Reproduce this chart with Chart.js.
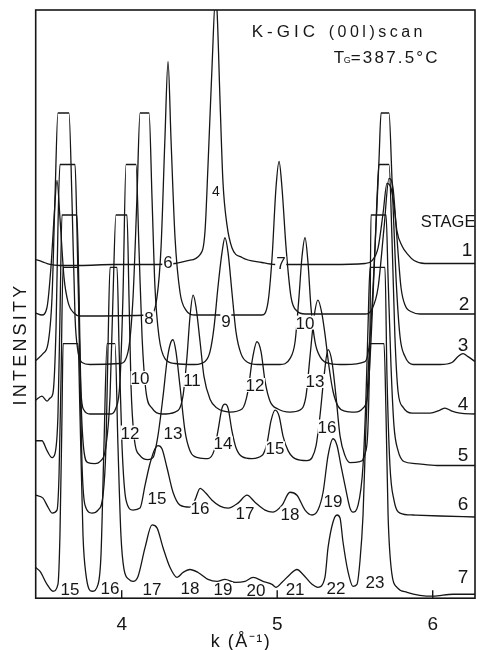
<!DOCTYPE html>
<html lang="en">
<head>
<meta charset="UTF-8">
<title>K-GIC (00l) scan</title>
<script src="https://cdn.jsdelivr.net/npm/chart.js"></script>
<style>
  html, body { margin: 0; padding: 0; background: #fff; }
</style>
</head>
<body>
<canvas id="scanChart" width="477" height="650"></canvas>
<script>
// k in 1/Angstrom, intensity in arbitrary units (stage offsets already included)
const k1 = [3.447, 3.487, 3.539, 3.603, 3.732, 3.944, 4.182, 4.343, 4.426, 4.504, 4.536, 4.555, 4.581, 4.603, 4.613, 4.632, 4.651, 4.677, 4.709, 4.774, 4.902, 4.986, 5.063, 5.340, 5.565, 5.610, 5.649, 5.681, 5.706, 5.732, 5.751, 5.770, 5.802, 5.841, 5.880, 5.950, 6.272];
const i1 = [342, 340, 337, 336, 336, 337, 337, 338, 341, 347, 371, 437, 537, 606, 594, 504, 421, 377, 354, 344, 339, 337, 337, 337, 338, 341, 354, 389, 419, 414, 397, 371, 356, 347, 341, 338, 338];

const k2 = [3.447, 3.487, 3.520, 3.545, 3.565, 3.584, 3.603, 3.629, 3.655, 3.693, 3.732, 4.182, 4.227, 4.253, 4.278, 4.298, 4.317, 4.343, 4.375, 4.413, 4.471, 4.902, 4.941, 4.967, 4.992, 5.012, 5.031, 5.057, 5.089, 5.127, 5.179, 5.565, 5.610, 5.649, 5.687, 5.719, 5.745, 5.770, 5.796, 5.822, 5.867, 5.918, 6.272];
const i2 = [288, 286, 294, 334, 384, 422, 384, 324, 299, 288, 285, 286, 304, 354, 464, 542, 464, 364, 309, 291, 286, 286, 299, 344, 414, 441, 414, 354, 304, 290, 287, 287, 292, 314, 374, 424, 414, 364, 314, 296, 289, 287, 287];

const k3 = [3.447, 3.494, 3.526, 3.552, 3.571, 3.590, 3.661, 3.680, 3.700, 3.719, 3.745, 3.796, 3.989, 4.041, 4.073, 4.098, 4.118, 4.176, 4.195, 4.214, 4.240, 4.278, 4.343, 4.471, 4.536, 4.568, 4.594, 4.619, 4.645, 4.664, 4.684, 4.709, 4.735, 4.767, 4.812, 4.877, 5.018, 5.082, 5.115, 5.140, 5.159, 5.179, 5.198, 5.217, 5.243, 5.275, 5.340, 5.436, 5.565, 5.597, 5.629, 5.655, 5.668, 5.719, 5.738, 5.764, 5.790, 5.822, 5.873, 6.047, 6.124, 6.163, 6.195, 6.227, 6.272];
const i3 = [240, 247, 257, 304, 404, 490, 490, 404, 284, 249, 238, 236, 237, 249, 304, 404, 490, 490, 404, 314, 264, 242, 237, 236, 239, 249, 274, 314, 349, 364, 349, 309, 269, 247, 238, 236, 236, 242, 259, 304, 344, 364, 339, 294, 259, 244, 237, 236, 239, 264, 354, 444, 490, 490, 424, 324, 264, 244, 236, 236, 238, 244, 247, 244, 239];

const k4 = [3.447, 3.487, 3.520, 3.539, 3.558, 3.578, 3.590, 3.603, 3.700, 3.712, 3.726, 3.738, 3.757, 3.796, 3.925, 3.963, 3.989, 4.008, 4.028, 4.092, 4.111, 4.131, 4.156, 4.195, 4.259, 4.343, 4.394, 4.420, 4.439, 4.459, 4.478, 4.504, 4.529, 4.568, 4.613, 4.696, 4.774, 4.812, 4.838, 4.870, 4.896, 4.922, 4.954, 5.005, 5.082, 5.147, 5.185, 5.211, 5.237, 5.262, 5.288, 5.307, 5.333, 5.359, 5.391, 5.436, 5.500, 5.552, 5.584, 5.616, 5.642, 5.655, 5.719, 5.738, 5.757, 5.777, 5.809, 5.867, 5.983, 6.047, 6.079, 6.124, 6.176, 6.272];
const i4 = [200, 204, 199, 202, 207, 274, 374, 438, 438, 374, 274, 209, 190, 186, 186, 192, 219, 304, 438, 438, 354, 264, 209, 192, 186, 188, 204, 244, 284, 306, 294, 259, 224, 201, 192, 188, 191, 209, 239, 259, 249, 219, 199, 191, 188, 190, 204, 244, 284, 301, 287, 267, 234, 209, 194, 189, 188, 192, 209, 304, 404, 438, 438, 364, 264, 209, 193, 187, 187, 190, 192, 189, 187, 186];

const k5 = [3.447, 3.487, 3.520, 3.552, 3.571, 3.590, 3.603, 3.616, 3.712, 3.726, 3.738, 3.757, 3.783, 3.828, 3.860, 3.899, 3.925, 3.944, 3.963, 4.034, 4.047, 4.060, 4.079, 4.118, 4.169, 4.201, 4.233, 4.266, 4.291, 4.311, 4.330, 4.349, 4.375, 4.407, 4.439, 4.491, 4.555, 4.594, 4.619, 4.645, 4.664, 4.684, 4.709, 4.735, 4.774, 4.838, 4.902, 4.934, 4.960, 4.986, 5.012, 5.037, 5.070, 5.115, 5.192, 5.224, 5.250, 5.275, 5.301, 5.327, 5.352, 5.378, 5.404, 5.436, 5.468, 5.532, 5.565, 5.584, 5.597, 5.603, 5.700, 5.713, 5.732, 5.751, 5.777, 5.815, 5.886, 6.028, 6.272];
const i5 = [159, 159, 149, 142, 146, 184, 284, 387, 387, 304, 204, 149, 137, 136, 138, 154, 204, 304, 387, 387, 304, 214, 164, 144, 140, 142, 164, 204, 239, 256, 261, 249, 214, 169, 149, 142, 141, 149, 169, 192, 196, 192, 169, 152, 143, 141, 144, 156, 179, 190, 184, 164, 149, 141, 139, 142, 154, 184, 224, 251, 239, 204, 164, 144, 137, 138, 146, 174, 274, 387, 387, 324, 234, 174, 149, 138, 136, 134, 134];

const k6 = [3.447, 3.494, 3.526, 3.552, 3.584, 3.597, 3.610, 3.623, 3.719, 3.732, 3.745, 3.764, 3.809, 3.848, 3.880, 3.899, 3.912, 3.925, 3.970, 3.983, 4.002, 4.028, 4.073, 4.118, 4.150, 4.182, 4.214, 4.233, 4.259, 4.291, 4.330, 4.375, 4.439, 4.471, 4.504, 4.542, 4.581, 4.632, 4.684, 4.748, 4.806, 4.857, 4.922, 4.973, 5.031, 5.082, 5.127, 5.179, 5.224, 5.262, 5.295, 5.327, 5.359, 5.385, 5.410, 5.436, 5.468, 5.487, 5.520, 5.552, 5.571, 5.584, 5.597, 5.693, 5.706, 5.725, 5.751, 5.790, 5.873, 6.047, 6.272];
const i6 = [104, 101, 92, 86, 89, 124, 224, 334, 334, 224, 134, 94, 86, 89, 104, 154, 254, 334, 334, 254, 154, 99, 89, 91, 114, 136, 151, 154, 151, 132, 107, 94, 92, 99, 111, 106, 99, 93, 91, 96, 104, 97, 89, 87, 94, 107, 104, 89, 84, 89, 107, 144, 161, 154, 134, 114, 91, 87, 94, 134, 204, 274, 334, 334, 224, 134, 99, 86, 84, 83, 82];

const k7 = [3.447, 3.475, 3.520, 3.558, 3.590, 3.603, 3.616, 3.623, 3.719, 3.732, 3.751, 3.770, 3.809, 3.848, 3.867, 3.886, 3.906, 3.957, 3.976, 3.995, 4.015, 4.047, 4.073, 4.105, 4.150, 4.195, 4.227, 4.266, 4.311, 4.356, 4.394, 4.439, 4.491, 4.555, 4.613, 4.664, 4.729, 4.793, 4.845, 4.909, 4.967, 4.992, 5.031, 5.082, 5.127, 5.166, 5.224, 5.262, 5.307, 5.327, 5.359, 5.385, 5.404, 5.423, 5.455, 5.487, 5.513, 5.532, 5.552, 5.571, 5.584, 5.597, 5.687, 5.700, 5.713, 5.738, 5.770, 5.835, 6.002, 6.131, 6.272];
const i7 = [31, 27, 14, 7, 14, 64, 184, 257, 257, 184, 64, 24, 7, 14, 44, 154, 257, 257, 154, 64, 29, 19, 17, 22, 51, 74, 71, 51, 31, 21, 26, 29, 26, 19, 17, 19, 16, 17, 21, 17, 14, 11, 16, 24, 29, 24, 14, 11, 21, 51, 77, 84, 81, 57, 27, 12, 14, 37, 84, 174, 224, 257, 257, 184, 84, 24, 11, 6, 2, 4, 4];

const traceK = [k1, k2, k3, k4, k5, k6, k7];
const traceI = [i1, i2, i3, i4, i5, i6, i7];

// (00l) index labels under the peaks
const peakText = ['4', '6', '7', '8', '9', '10', '10', '11', '12', '13', '12', '13', '14', '15', '16', '15', '16', '17', '18', '19', '15', '16', '17', '18', '19', '20', '21', '22', '23'];
const peakK = [4.606, 4.298, 5.024, 4.176, 4.671, 5.179, 4.118, 4.452, 4.857, 5.243, 4.053, 4.330, 4.651, 4.986, 5.320, 4.227, 4.504, 4.793, 5.082, 5.359, 3.668, 3.925, 4.195, 4.439, 4.651, 4.864, 5.115, 5.378, 5.629];
const peakI = [410, 338, 337, 282, 279, 277, 221, 219, 214, 218, 166, 165, 155, 150, 172, 100, 90, 85, 84, 97, 8, 9, 8, 9, 8, 7, 8, 9, 15];

// stage numbers at the right end of each trace
const stageText = ['1', '2', '3', '4', '5', '6', '7'];
const stageK = [6.221, 6.201, 6.195, 6.195, 6.195, 6.195, 6.195];
const stageI = [351, 296, 255, 195, 144, 94, 21];

const xTicks = [4, 5, 6];

const FONT = '"Liberation Sans", Arial, sans-serif';
const INK = '#161616';

const datasets = traceK.map((ks, n) => ({
  label: 'stage ' + (n + 1),
  data: ks.map((k, j) => ({ x: k, y: traceI[n][j] })),
  borderColor: INK,
  borderWidth: 1.3,
  pointRadius: 0,
  fill: false,
  cubicInterpolationMode: 'monotone'
}));

function spaced(ctx, px) {
  if ('letterSpacing' in ctx) ctx.letterSpacing = px + 'px';
}

const decorations = {
  id: 'decorations',
  afterDraw(chart) {
    const ctx = chart.ctx;
    const ca = chart.chartArea;
    const xs = chart.scales.x;
    const ys = chart.scales.y;
    ctx.save();

    // frame
    ctx.strokeStyle = INK;
    ctx.lineWidth = 1.6;
    ctx.strokeRect(ca.left, ca.top, ca.right - ca.left, ca.bottom - ca.top);

    // ticks pointing into the plot
    ctx.lineWidth = 1.4;
    xTicks.forEach(v => {
      const x = xs.getPixelForValue(v);
      ctx.beginPath();
      ctx.moveTo(x, ca.bottom);
      ctx.lineTo(x, ca.bottom - 8);
      ctx.stroke();
    });

    ctx.fillStyle = INK;
    ctx.textAlign = 'center';
    ctx.textBaseline = 'middle';

    // peak index labels, with a small white gap behind them
    peakText.forEach((t, n) => {
      const x = xs.getPixelForValue(peakK[n]);
      const y = ys.getPixelForValue(peakI[n]);
      ctx.font = (n === 0 ? 14 : 17) + 'px ' + FONT;
      const m = ctx.measureText(t);
      ctx.fillStyle = '#fff';
      ctx.fillRect(x - m.actualBoundingBoxLeft - 1, y - m.actualBoundingBoxAscent - 1,
        m.actualBoundingBoxLeft + m.actualBoundingBoxRight + 2,
        m.actualBoundingBoxAscent + m.actualBoundingBoxDescent + 2);
      ctx.fillStyle = INK;
      ctx.fillText(t, x, y);
    });

    // stage numbers
    ctx.font = '19px ' + FONT;
    stageText.forEach((t, n) => {
      ctx.fillText(t, xs.getPixelForValue(stageK[n]), ys.getPixelForValue(stageI[n]));
    });

    ctx.textAlign = 'left';
    ctx.textBaseline = 'alphabetic';
    ctx.font = '16.5px ' + FONT;
    ctx.fillText('STAGE', ca.left + 385, 227);

    // header
    ctx.font = '17px ' + FONT;
    spaced(ctx, 4);
    ctx.fillText('K-GIC', ca.left + 216, 37);
    ctx.font = '16px ' + FONT;
    spaced(ctx, 3.5);
    ctx.fillText('(00l)scan', ca.left + 293, 37);

    spaced(ctx, 0);
    ctx.font = '17px ' + FONT;
    ctx.fillText('T', ca.left + 298, 63);
    ctx.font = '9px ' + FONT;
    ctx.fillText('G', ca.left + 308, 63);
    ctx.font = '17px ' + FONT;
    spaced(ctx, 2.2);
    ctx.fillText('=387.5°C', ca.left + 315, 63);

    // axis titles
    spaced(ctx, 1.5);
    ctx.textAlign = 'center';
    ctx.font = '18px ' + FONT;
    ctx.fillText('k (Å⁻¹)', 241, 647);

    spaced(ctx, 3.2);
    ctx.font = '18px ' + FONT;
    ctx.textBaseline = 'middle';
    ctx.translate(21.5, 344);
    ctx.rotate(-Math.PI / 2);
    ctx.fillText('INTENSITY', 0, 0);
    ctx.restore();
  }
};

new Chart(document.getElementById('scanChart'), {
  type: 'line',
  data: { datasets },
  options: {
    responsive: false,
    animation: false,
    layout: { padding: { left: 35.7, right: 2, top: 10, bottom: 7 } },
    plugins: { legend: { display: false }, tooltip: { enabled: false } },
    scales: {
      x: {
        type: 'linear',
        min: 3.447,
        max: 6.272,
        grid: { display: false },
        border: { display: false },
        afterBuildTicks: axis => { axis.ticks = xTicks.map(v => ({ value: v })); },
        ticks: { color: INK, padding: 7, font: { family: FONT, size: 19 } }
      },
      y: { display: false, min: 0, max: 594 }
    }
  },
  plugins: [decorations]
});
</script>
</body>
</html>
